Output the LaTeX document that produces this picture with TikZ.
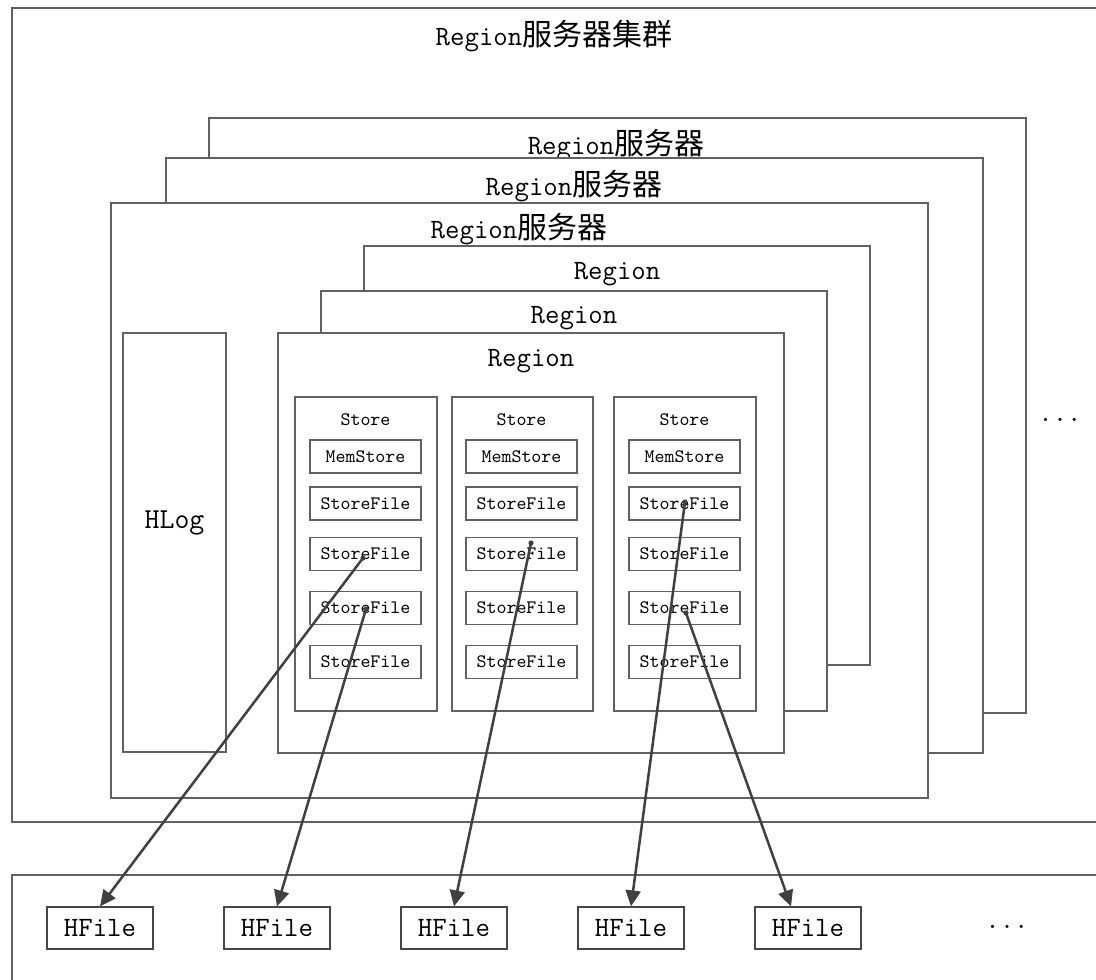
\documentclass[tikz,border=0pt]{standalone}
\usepackage{fontspec}
\newfontfamily\cjk{Noto Sans CJK SC}
\usetikzlibrary{arrows.meta,calc,fit}
\newcommand\zh[1]{{\cjk\fontsize{15}{17}\selectfont #1}}
\begin{document}
\begin{tikzpicture}[x=0.5pt,y=-0.5pt,
  frame/.style={draw=black!62,line width=0.6pt,fill=white,inner sep=0pt},
  lbl/.style={inner sep=0pt,font=\ttfamily\fontsize{14}{16}\selectfont},
  small/.style={font=\ttfamily\fontsize{9.5}{11}\selectfont,inner sep=0pt},
  fbox/.style={draw=black!62,line width=0.6pt,fill=white,minimum width=55.5pt,minimum height=16.5pt,inner sep=0pt,font=\ttfamily\fontsize{9.5}{11}\selectfont},
  hbox/.style={draw=black!72,line width=0.6pt,fill=white,minimum width=53pt,minimum height=21pt,inner sep=0pt,font=\ttfamily\fontsize{14}{16}\selectfont},
  link/.style={draw=black!75,line width=1.25pt,line cap=round,-{Triangle[length=8pt,width=7.5pt]}},
]
\useasboundingbox (0,0) rectangle (1096,979);
\clip (0,0) rectangle (1096,979);
\fill[white] (0,0) rectangle (1096,979);

% cluster
\node[frame,fit={(12,8) (1110,822)}] (cluster) {};
\node[lbl] (clusterlbl) at (554,36) {Region\zh{服务器集群}};

% region servers
\node[frame,fit={(209,118) (1026,713)}] (srv3) {};
\node[lbl] (srv3lbl) at (616,145) {Region\zh{服务器}};
\node[frame,fit={(166,158) (983,753)}] (srv2) {};
\node[lbl] (srv2lbl) at (574,186) {Region\zh{服务器}};
\node[frame,fit={(111,203) (928,798)}] (srv1) {};
\node[lbl] (srv1lbl) at (519,229) {Region\zh{服务器}};

% regions
\node[frame,fit={(364,246) (870,665)}] (reg3) {};
\node[lbl] (reg3lbl) at (617,274) {Region};
\node[frame,fit={(321,291) (827,711)}] (reg2) {};
\node[lbl] (reg2lbl) at (574,318) {Region};
\node[frame,fit={(278,333) (784,753)}] (reg1) {};
\node[lbl] (reg1lbl) at (531,361) {Region};

% HLog
\node[frame,fit={(123,333) (226,752)}] (hlog) {};
\node[lbl,font=\ttfamily\fontsize{14.5}{16}\selectfont] (hloglbl) at (174.5,523) {HLog};

% stores
\foreach \i/\x/\l/\r in {1/365.5/295/437, 2/521.5/452/593, 3/684.5/614/756} {
  \node[frame,fit={(\l,397) (\r,711)}] (s\i) {};
  \node[small] (s\i-t) at (\x,420) {Store};
  \node[fbox] (s\i-m) at (\x,456.5) {MemStore};
  \node[fbox] (s\i-f1) at (\x,503.5) {StoreFile};
  \node[fbox] (s\i-f2) at (\x,554) {StoreFile};
  \node[fbox] (s\i-f3) at (\x,608) {StoreFile};
  \node[fbox] (s\i-f4) at (\x,662) {StoreFile};
}

\node[lbl] (dots1) at (1060,420) {...};

% HDFS row
\node[frame,fit={(12,875) (1110,995)}] (hdfs) {};
\foreach \i/\x in {1/100, 2/277, 3/454, 4/631, 5/808} {
  \node[hbox] (h\i) at (\x,928) {HFile};
}
\node[lbl] (dots2) at (1007,927) {...};

% links
\coordinate (p1) at (363,558);
\coordinate (p2) at (366,609);
\coordinate (p3) at (531,543);
\coordinate (p4) at (685,502);
\coordinate (p5) at (686,613);
\coordinate (h5in) at ($(h5.north)+(-17,0)$);
\foreach \p in {p1,p2,p3,p4,p5} \fill[black!75] (\p) circle (1.3pt);
\draw[link] (p1) -- (h1.north);
\draw[link] (p2) -- (h2.north);
\draw[link] (p3) -- (h3.north);
\draw[link] (p4) -- (h4.north);
\draw[link] (p5) -- (h5in);
\end{tikzpicture}
\end{document}
